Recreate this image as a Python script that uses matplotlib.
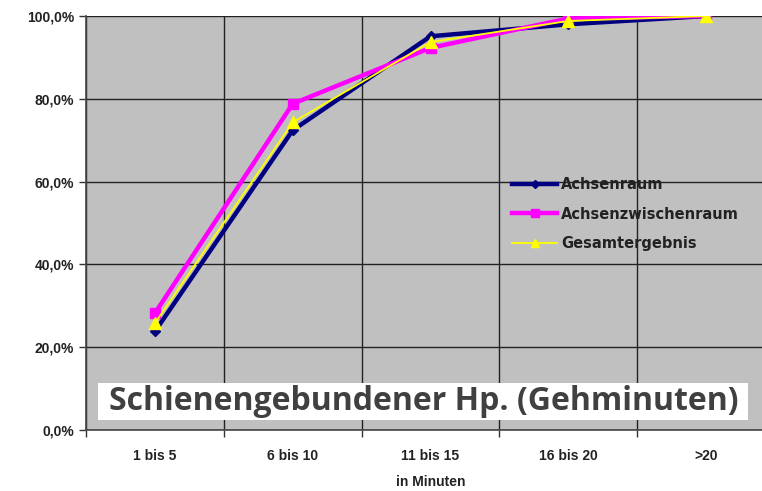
import matplotlib
matplotlib.use("Agg")
import matplotlib.pyplot as plt
from matplotlib.ticker import FuncFormatter, MultipleLocator, FixedLocator
from matplotlib.patches import Rectangle

categories = ["1 bis 5", "6 bis 10", "11 bis 15", "16 bis 20", ">20"]
achsenraum = [23.8, 72.4, 95.1, 98.0, 100.0]
achsenzwischenraum = [28.2, 78.8, 92.3, 99.4, 100.0]
gesamtergebnis = [25.8, 74.3, 93.7, 98.8, 100.0]

plt.rcParams['font.family'] = ['Liberation Sans', 'DejaVu Sans']

fig = plt.figure(figsize=(7.62, 4.91), dpi=100)
ax = fig.add_axes([86/762, 1-430/491, 689/762, 414/491])
ax.set_facecolor('#c0c0c0')

x = list(range(len(categories)))
ax.plot(x, achsenraum, color='#000080', lw=3.2, marker='D', ms=5.5, label='Achsenraum', zorder=3)
ax.plot(x, achsenzwischenraum, color='#ff00ff', lw=3.2, marker='s', ms=7, label='Achsenzwischenraum', zorder=3)
ax.plot(x, gesamtergebnis, color='#ffff00', lw=1.3, marker='^', ms=8, label='Gesamtergebnis', zorder=4)

ax.set_xlim(-0.5, len(categories) - 0.5)
ax.set_ylim(0, 100)
ax.yaxis.set_major_locator(MultipleLocator(20))
ax.yaxis.set_major_formatter(FuncFormatter(lambda v, p: f"{v:.1f}%".replace('.', ',')))
ax.xaxis.set_major_locator(FixedLocator(x))
ax.set_xticks([i + 0.5 for i in range(-1, len(categories))], minor=True)
ax.set_xticklabels(categories, fontweight='bold', fontsize=10, color='#222222')
ax.tick_params(axis='x', which='major', length=0, pad=14)
ax.tick_params(axis='x', which='minor', length=5, color='#333333', width=1)
ax.tick_params(axis='y', length=5, color='#333333', width=1, labelsize=10)
for lab in ax.get_yticklabels():
    lab.set_fontweight('bold'); lab.set_color('#222222')
ax.grid(True, axis='y', which='major', color='#222222', lw=1)
ax.grid(True, axis='x', which='minor', color='#222222', lw=1)
ax.grid(False, axis='x', which='major')
for s in ['top', 'right']:
    ax.spines[s].set_visible(False)
for s in ['left', 'bottom']:
    ax.spines[s].set_color('#444444'); ax.spines[s].set_linewidth(1.2)

ax.set_xlabel("in Minuten", fontweight='bold', fontsize=10, color='#222222', labelpad=8)

leg = ax.legend(loc='upper left', bbox_to_anchor=((512-86)/689, 1-(177-16)/414), frameon=False,
                prop={'family': 'DejaVu Sans', 'weight': 'bold', 'size': 10.5}, handlelength=3.1,
                handletextpad=0.25, labelspacing=1.0, borderaxespad=0, borderpad=0, markerscale=0.8)
for t in leg.get_texts():
    t.set_color('#222222')

fig.patches.append(Rectangle((98/762, 1-420/491), 650/762, 37/491, transform=fig.transFigure,
                             facecolor='white', edgecolor='none', zorder=5))
fig.text(424/762, 1-402/491, "Schienengebundener Hp. (Gehminuten)", family=['Open Sans', 'DejaVu Sans'],
         fontweight='bold', fontsize=23, color='#404040', ha='center', va='center', zorder=6)

fig.savefig("out.png", dpi=100)
